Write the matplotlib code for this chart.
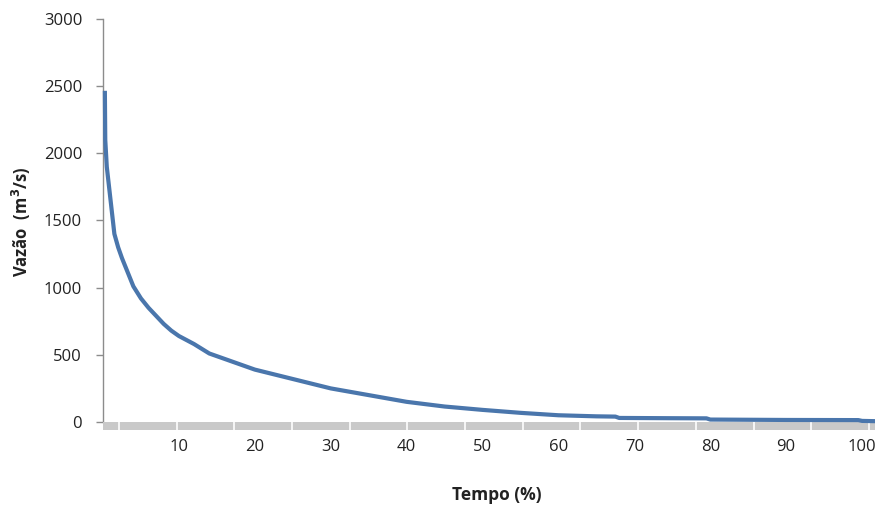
import matplotlib
matplotlib.use("Agg")
import matplotlib.pyplot as plt
import matplotlib.transforms as mtransforms
from matplotlib.patches import Rectangle

# Flow duration curve data
tempo = [0.25, 0.3, 0.4, 0.5, 0.8, 1.2, 1.5, 2.0, 2.5, 3.0, 4.0, 5.0, 6.0, 7.0, 8.0,
         9.0, 10.0, 12.0, 14.0, 16.0, 18.0, 20.0, 25.0, 30.0, 35.0, 40.0, 45.0, 50.0, 55.0,
         60.0, 65.0, 67.5, 68.0, 75.0, 79.5, 80.0, 90.0, 99.5, 100.0, 101.7]
vazao = [2450, 2100, 2000, 1900, 1750, 1550, 1400, 1300, 1220, 1150, 1010, 920, 850, 790, 730,
         680, 640, 580, 510, 470, 430, 390, 320, 250, 200, 150, 115, 90, 68,
         50, 42, 40, 30, 28, 27, 18, 15, 14, 8, 6]

xticks = [10, 20, 30, 40, 50, 60, 70, 80, 90, 100]
yticks = [0, 500, 1000, 1500, 2000, 2500, 3000]

plt.rcParams['font.family'] = ['Open Sans', 'DejaVu Sans']

fig = plt.figure(figsize=(8.75, 5.07), dpi=100)
ax = fig.add_axes([0.1177, 0.1677, 0.8823, 0.7948])

ax.plot(tempo, vazao, color='#4a76ac', lw=3.0, solid_joinstyle='round', zorder=5, clip_on=False)

ax.set_xlim(0, 101.7)
ax.set_ylim(0, 3000)

for s in ['top', 'right', 'bottom']:
    ax.spines[s].set_visible(False)
ax.spines['left'].set_color('#8c8c8c')
ax.spines['left'].set_linewidth(1.0)

ax.set_yticks(yticks)
ax.set_yticklabels([str(v) for v in yticks])
ax.tick_params(axis='y', direction='out', length=5, width=1, color='#8c8c8c',
               pad=10, labelsize=12, labelcolor='#222222')
ax.set_xticks(xticks)
ax.set_xticklabels([str(v) for v in xticks])
ax.tick_params(axis='x', length=0, pad=12, labelsize=12, labelcolor='#222222')

# Gray category-axis band below zero
band_h = 7.6 / (0.7948 * 507)
ax.add_patch(Rectangle((0, -band_h), 1, band_h, transform=ax.transAxes,
                       facecolor='#c9c9c9', edgecolor='none', clip_on=False, zorder=3))
trans = mtransforms.blended_transform_factory(ax.transData, ax.transAxes)
k = 2.1
while k < 101.7:
    ax.plot([k, k], [-band_h, 0], transform=trans, color='white', lw=1.2,
            clip_on=False, zorder=4)
    k += 7.6

fig.text(0.568, 0.024, 'Tempo (%)', ha='center', va='center', fontsize=12.5,
         fontweight='bold', color='#222222')
fig.text(0.024, 0.562, 'Vazão  (m$^\\mathbf{3}$/s)', ha='center', va='center', rotation=90,
         fontsize=12, fontweight='bold', color='#222222')

fig.savefig('out.png', dpi=100)
